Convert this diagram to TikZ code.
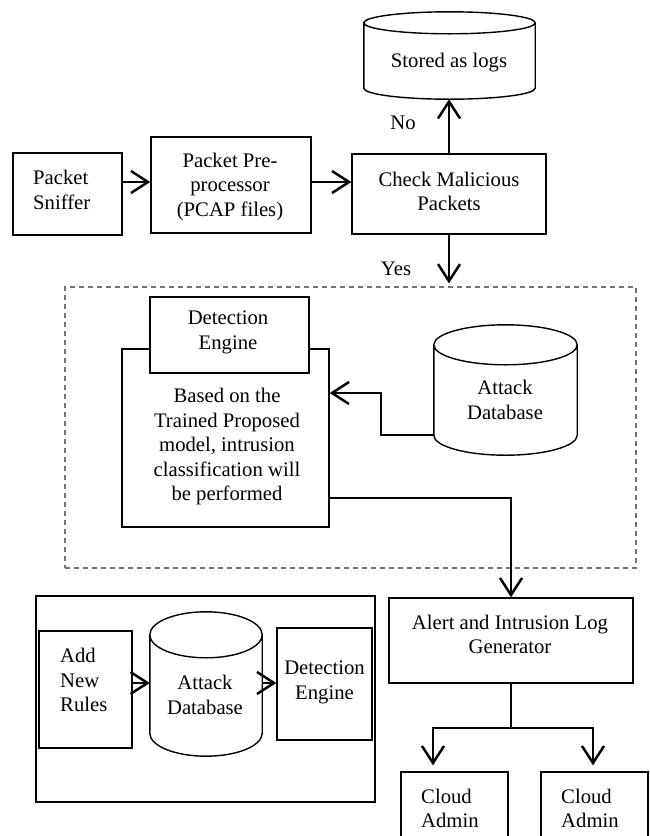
\documentclass[tikz,border=0pt]{standalone}
\usepackage{fontspec}
\setmainfont{Liberation Serif}
\usetikzlibrary{arrows.meta,calc}
\newcommand{\drawcyl}[2]{%
  \draw[cylline] let \p1=(#1.north west), \p2=(#1.south east), \p3=(#1.north), \n1={(\x2-\x1)/2} in
    (\x1,\y1-#2pt) -- (\x1,\y2+#2pt)
    arc[start angle=180, end angle=360, x radius=\n1, y radius=#2pt]
    -- (\x2,\y1-#2pt)
    (\x3,\y1-#2pt) ellipse[x radius=\n1, y radius=#2pt];
}
\begin{document}
\begin{tikzpicture}[x=1pt,y=1pt,
  every node/.style={font=\fontsize{20.7}{24.5}\selectfont},
  box/.style={draw, line width=1.4pt, fill=white, inner sep=0pt},
  ghost/.style={inner sep=0pt},
  txt/.style={inner sep=0pt, align=center},
  ltxt/.style={inner sep=0pt, align=left, anchor=west},
  conn/.style={line width=2.2pt},
  arr/.style={line width=2.5pt, -{Straight Barb[length=17pt,width=22pt]}},
  cylline/.style={line width=1.4pt},
  dashbox/.style={draw=black!55, line width=1.2pt, dash pattern=on 5pt off 4pt, inner sep=0pt}
]
\useasboundingbox (0,0) rectangle (649,-836);
\clip (0,0) rectangle (649,-836);

% top row
\node[box, minimum width=109pt, minimum height=82pt] (sniffer) at (67.5,-194) {};
\node[ltxt] (snifferT) at (33,-190) {Packet\\Sniffer};
\node[box, minimum width=160pt, minimum height=96pt] (pre) at (231,-185) {};
\node[txt] (preT) at (230,-187) {Packet Pre-\\processor\\(PCAP files)};
\node[box, minimum width=194pt, minimum height=80pt] (check) at (449,-194) {};
\node[txt] (checkT) at (449,-191.5) {Check Malicious\\Packets};

\node[ghost, minimum width=171pt, minimum height=87pt] (logs) at (449.5,-55.5) {};
\drawcyl{logs}{11}
\node[txt] (logsT) at (449,-63) {Stored as logs};

\coordinate (arrowY) at (0,-182);
\draw[arr] (sniffer.east |- arrowY) -- (pre.west |- arrowY);
\draw[arr] (pre.east |- arrowY) -- (check.west |- arrowY);
\draw[arr] (check.north) -- (check.north |- logs.south);
\node[txt] (no) at (403,-123) {No};

% dashed detection zone
\node[dashbox, minimum width=571pt, minimum height=281pt] (zone) at (350.5,-427.5) {};
\draw[arr] (check.south) -- ($(check.south |- zone.north)+(0,3)$);
\node[txt] (yes) at (396,-269) {Yes};

\node[box, minimum width=207pt, minimum height=178pt] (engine) at (225.5,-438) {};
\node[box, minimum width=159pt, minimum height=76pt] (tab) at (229.5,-335) {};
\node[txt] (tabT) at (228,-332.5) {Detection\\Engine};
\node[txt] (engineT) at (227,-447) {Based on the\\Trained Proposed\\model, intrusion\\classification will\\be performed};

\node[ghost, minimum width=143pt, minimum height=130pt] (adb) at (505.5,-390) {};
\drawcyl{adb}{20}
\node[txt] (adbT) at (505,-400) {Attack\\Database};
\draw[arr] ([yshift=20pt]adb.south west) -- ++(-53,0) |- ([yshift=45pt]engine.east);

% alert
\node[box, minimum width=244pt, minimum height=85pt] (alert) at (511,-640.5) {};
\node[txt] (alertT) at (510,-634.5) {Alert and Intrusion Log\\Generator};
\draw[arr] ([yshift=-60pt]engine.east) -| (alert.north);

% cloud admins
\node[box, minimum width=107pt, minimum height=76pt] (cloudA) at (454.5,-810) {};
\node[box, minimum width=107pt, minimum height=76pt] (cloudB) at (594.5,-810) {};
\node[ltxt] (cloudAT) at (421,-808.5) {Cloud\\Admin};
\node[ltxt] (cloudBT) at (561,-808.5) {Cloud\\Admin};
\coordinate (jl) at (433,-728);
\coordinate (jr) at (593,-728);
\draw[conn] (alert.south) -- (alert.south |- jl);
\draw[arr] (jl -| alert.south) -| ($(cloudA.north -| jl)+(0,6)$);
\draw[arr] (jr -| alert.south) -| ($(cloudB.north -| jr)+(0,6)$);

% rules update box
\node[draw, line width=1.4pt, minimum width=339pt, minimum height=206pt, inner sep=0pt] (rules) at (205.5,-699) {};
\node[box, minimum width=93pt, minimum height=117pt] (add) at (85.5,-689.5) {};
\node[ltxt] (addT) at (60,-680) {Add\\New\\Rules};
\node[ghost, minimum width=112pt, minimum height=144pt] (adb2) at (206,-684) {};
\drawcyl{adb2}{23}
\node[txt] (adb2T) at (205,-695) {Attack\\Database};
\node[box, minimum width=95pt, minimum height=112pt] (det2) at (324.5,-684) {};
\node[txt] (det2T) at (324.5,-682.5) {Detection\\Engine};
\coordinate (rowY) at (0,-683);
\draw[arr] (add.east |- rowY) -- (adb2.west |- rowY);
\draw[arr] (adb2.east |- rowY) -- (det2.west |- rowY);
\end{tikzpicture}
\end{document}
